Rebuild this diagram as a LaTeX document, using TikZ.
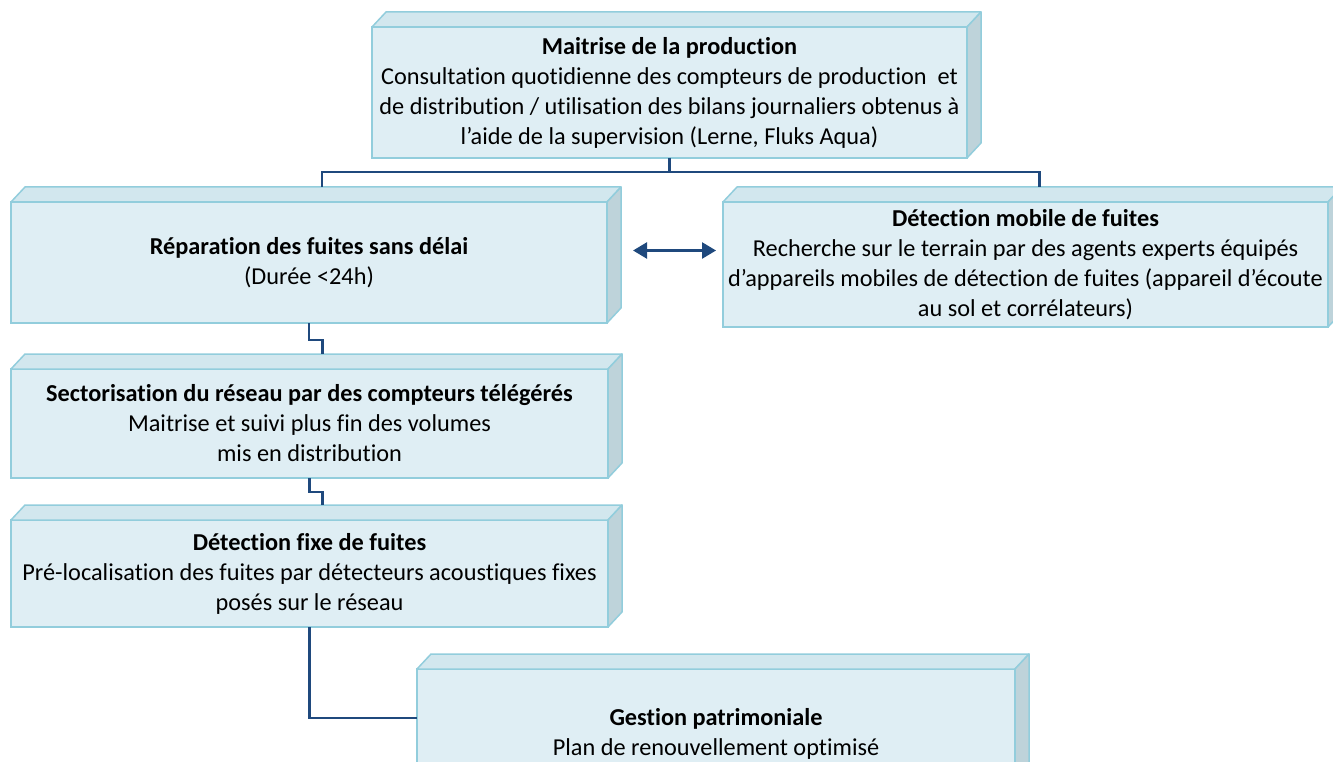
\documentclass[tikz,border=0pt]{standalone}
\usepackage{fontspec}
\setmainfont{Carlito}[Ligatures=NoCommon]
\usetikzlibrary{arrows.meta}
\definecolor{face}{HTML}{DFEEF4}
\definecolor{dessus}{HTML}{D2E7EE}
\definecolor{cote}{HTML}{BED3DA}
\definecolor{bord}{HTML}{92CDDC}
\definecolor{marine}{HTML}{1F497D}
\tikzset{
  bloc/.style={draw=bord, fill=face, line width=1.5pt, align=center, inner sep=0pt, outer sep=0pt,
    font=\fontsize{24.3}{30}\selectfont},
  lien/.style={draw=marine, line width=2.5pt},
}
\newcommand{\cubefaces}[1]{%
  \filldraw[fill=dessus, draw=bord, line width=1.5pt, line join=round] (#1.north west) -- ++(14,-15) -- ([shift={(14,-15)}]#1.north east) -- (#1.north east) -- cycle;
  \filldraw[fill=cote, draw=bord, line width=1.5pt, line join=round] (#1.north east) -- ++(14,-15) -- ([shift={(14,-15)}]#1.south east) -- (#1.south east) -- cycle;}
\begin{document}
\begin{tikzpicture}[x=1pt, y=-1pt]
\useasboundingbox (0,0) rectangle (1333,762);
\clip (0,0) rectangle (1333,762);
\node[bloc, minimum width=595pt, minimum height=131pt] (maitrise) at (669.5,92.5) {\textbf{Maitrise de la production}\\Consultation quotidienne des compteurs de production\ \ et\\de distribution / utilisation des bilans journaliers obtenus à\\l’aide de la supervision (Lerne, Fluks Aqua)};
\cubefaces{maitrise}
\node[bloc, minimum width=596pt, minimum height=121pt] (reparation) at (309,262.5) {\textbf{Réparation des fuites sans délai}\\(Durée <24h)};
\cubefaces{reparation}
\node[bloc, minimum width=605pt, minimum height=125pt] (mobile) at (1025.5,264.5) {\textbf{Détection mobile de fuites}\\Recherche sur le terrain par des agents experts équipés\\d’appareils mobiles de détection de fuites (appareil d’écoute\\au sol et corrélateurs)};
\cubefaces{mobile}
\node[bloc, minimum width=597pt, minimum height=109pt] (secteur) at (309.5,423.5) {\textbf{Sectorisation du réseau par des compteurs télégérés}\\Maitrise et suivi plus fin des volumes\\mis en distribution};
\cubefaces{secteur}
\node[bloc, minimum width=597pt, minimum height=107pt] (fixe) at (309.5,573.5) {\textbf{Détection fixe de fuites}\\Pré-localisation des fuites par détecteurs acoustiques fixes\\posés sur le réseau};
\cubefaces{fixe}
\node[bloc, minimum width=598pt, minimum height=130pt] (gestion) at (716,734) {\textbf{Gestion patrimoniale}\\Plan de renouvellement optimisé};
\cubefaces{gestion}
\draw[lien] (maitrise.south) -- ++(0,14) -| ([shift={(13,-15)}]reparation.north);
\draw[lien] (maitrise.south) -- ++(0,14) -| ([shift={(14,-15)}]mobile.north);
\draw[lien] (reparation.south) -- ++(0,17) -| ([shift={(13,-15)}]secteur.north);
\draw[lien] (secteur.south) -- ++(0,14) -| ([shift={(13,-15)}]fixe.north);
\draw[lien] (fixe.south) |- ([yshift=16pt]gestion.west);
\draw[marine, line width=2.5pt, {Triangle[width=16pt,length=14pt]}-{Triangle[width=16pt,length=14pt]}] ([shift={(26,-12)}]reparation.east) -- ([shift={(-7,-14)}]mobile.west);
\end{tikzpicture}
\end{document}
